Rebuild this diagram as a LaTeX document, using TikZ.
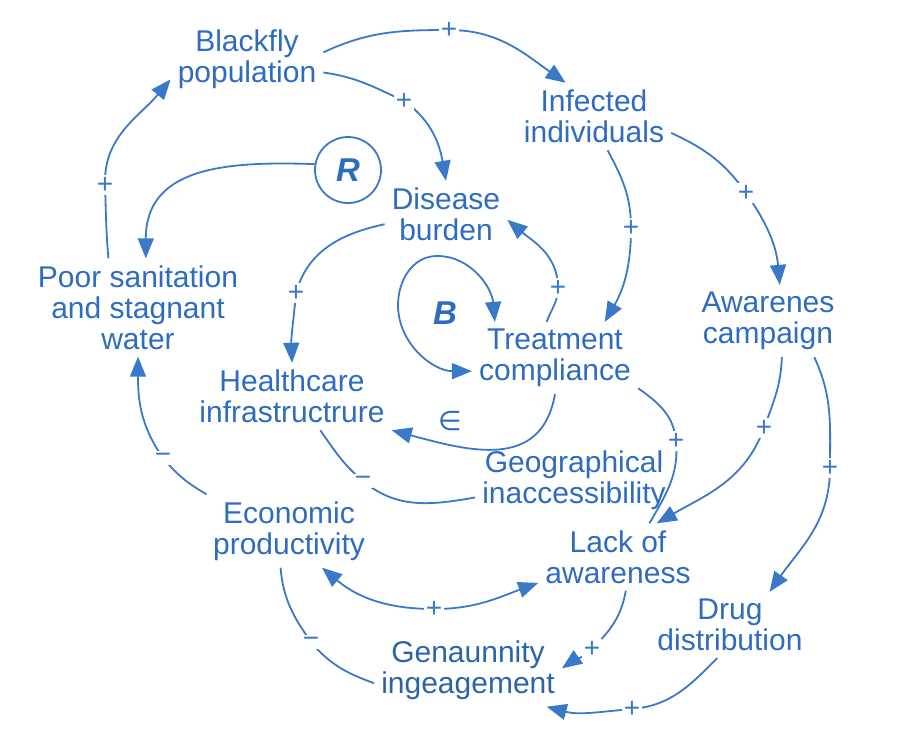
\documentclass[tikz,border=0pt]{standalone}
\usepackage{fontspec}
\setmainfont{Liberation Sans}
\newfontfamily\symfont{DejaVu Sans}
\usetikzlibrary{arrows.meta}

\definecolor{textblue}{HTML}{2D6CC0}
\definecolor{lineblue}{HTML}{3A78C8}
\definecolor{deepblue}{HTML}{2B64A8}

\begin{document}
\begin{tikzpicture}[x=1pt, y=1pt,
    var/.style={text=textblue, align=center, inner sep=7pt,
        font=\fontsize{30}{31}\selectfont},
    link/.style={draw=lineblue, line width=1.8pt,
        -{Triangle[length=20pt,width=16pt]}},
    twoway/.style={draw=lineblue, line width=1.8pt,
        {Triangle[length=20pt,width=16pt]}-{Triangle[length=20pt,width=16pt]}},
    plain/.style={draw=lineblue, line width=1.8pt},
    sign/.style={fill=white, text=lineblue, inner sep=1.5pt,
        font=\fontsize{28}{28}\selectfont},
    loopname/.style={text=textblue, font=\fontsize{33}{33}\selectfont\bfseries\itshape}]

\useasboundingbox (0,0) rectangle (924,-748);

% ---- Variables ----
\node[var] (fly)  at (247,-59)    {Blackfly\\population};
\node[var] (inf)  at (594,-116.5) {Infected\\individuals};
\node[var] (dis)  at (446,-214.5) {Disease\\burden};
\node[var] (san)  at (138,-307.5) {Poor sanitation\\and stagnant\\water};
\node[var] (trt)  at (555,-358)   {Treatment\\compliance};
\node[var] (hlt)  at (292,-396.5) {Healthcare\\infrastructrure};
\node[var] (geo)  at (574,-480)   {Geographical\\inaccessibility};
\node[var] (eco)  at (289,-531)   {Economic\\productivity};
\node[var] (lack) at (618,-557)   {Lack of\\awareness};
\node[var] (camp) at (768,-321)   {Awarenes\\campaign};
\node[var] (drug) at (730,-625)   {Drug\\distribution};
\node[var, text=deepblue] (comm) at (468,-670) {Genaunnity\\ingeagement};

% Loop markers
\node[loopname, circle, draw=lineblue, line width=1.8pt, minimum size=66pt,
      inner sep=0pt] (R) at (348,-170) {R};
\node[loopname] (B) at (445,-313) {B};

% ---- Outer links ----
\draw[link] (fly.5) to[out=25,in=180] (449,-30) node[sign]{+}
    to[out=0,in=145] (inf.130);
\draw[link] (fly.-10) to[out=-8,in=155] (404,-101) node[sign]{+}
    to[out=-35,in=100] (dis.90);
\draw[link] (R.170) to[out=178,in=90,looseness=1.2] (san.81);
\draw[link] (san.121) to[out=95,in=-88] (105,-185) node[sign]{+}
    to[out=92,in=230] (fly.195);
\draw[link] (inf.-68) to[out=-62,in=90] (631,-228) node[sign]{+}
    to[out=-90,in=60] (trt.36);
\draw[link] (inf.-12) to[out=-25,in=125] (746,-193) node[sign]{+}
    to[out=-55,in=95] (camp.72);

% ---- Inner links ----
\draw[link] (dis.189) to[out=192,in=75] (296,-293) node[sign]{+}
    to[out=-95,in=92] (hlt.90);
\draw[twoway] (trt.149) to[out=95,in=0] (437,-256)
    to[out=180,in=90] (398,-305) to[out=-90,in=180] (trt.189);
\draw[link] (trt.103) to[out=70,in=-90] (558,-288) node[sign]{+}
    to[out=90,in=-40] (dis.-5);
\draw[link] (trt.-90) to[out=-100,in=-15,looseness=1.2] (hlt.south east);
\node[text=textblue, font=\fontsize{27}{27}\symfont] (neg) at (450,-421) {∈};
\draw[plain] (hlt.-50) to[out=-55,in=140] (363,-481) node[sign]{−}
    to[out=-40,in=190] (geo.190);
\draw[plain] (trt.-20) to[out=-35,in=95] (676,-441) node[sign]{+}
    to[out=-85,in=60] (lack.47);

% ---- Lower links ----
\draw[link] (camp.-69) to[out=-92,in=70] (764,-428) node[sign]{+}
    to[out=-110,in=30] (lack.41);
\draw[link] (camp.-38) to[out=-65,in=90] (830,-468) node[sign]{+}
    to[out=-90,in=55] (drug.40);
\draw[link] (drug.-111) to[out=-135,in=5] (632,-709) node[sign]{+}
    to[out=185,in=-15] (comm.-25);
\draw[link] (lack.-77) to[out=-100,in=45] (592,-649) node[sign]{+}
    to[out=-135,in=35] (comm.1);
\draw[twoway] (eco.-48) to[out=-40,in=180] (434,-609) node[sign]{+}
    to[out=0,in=200] (lack.198);
\draw[plain] (eco.-103) to[out=-85,in=125] (311,-642) node[sign]{−}
    to[out=-50,in=160] (comm.188);
\draw[link] (eco.156) to[out=150,in=-50] (163,-458) node[sign]{−}
    to[out=125,in=-90] (san.-90);

\end{tikzpicture}
\end{document}
